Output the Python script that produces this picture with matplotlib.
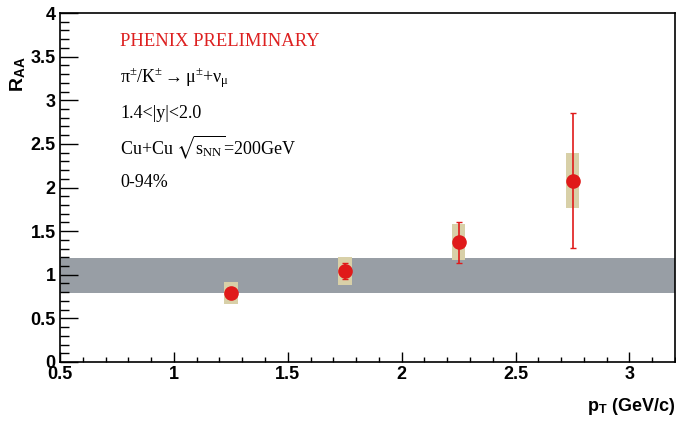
import matplotlib
matplotlib.use('Agg')
import matplotlib.pyplot as plt
from matplotlib.ticker import MultipleLocator
from matplotlib.patches import Rectangle

pt = [1.25, 1.75, 2.25, 2.75]
raa = [0.79, 1.04, 1.37, 2.08]
stat_lo = [0.02, 0.09, 0.24, 0.77]
stat_hi = [0.02, 0.09, 0.24, 0.77]
sys_lo = [0.12, 0.16, 0.20, 0.32]
sys_hi = [0.13, 0.16, 0.21, 0.31]
band_lo, band_hi = 0.79, 1.19

plt.rcParams['mathtext.fontset'] = 'custom'
plt.rcParams['mathtext.rm'] = 'Liberation Serif'
plt.rcParams['mathtext.it'] = 'Liberation Serif:italic'
plt.rcParams['mathtext.bf'] = 'Liberation Sans:bold'
plt.rcParams['mathtext.fallback'] = 'stix'

fig = plt.figure(figsize=(6.76, 4.24), dpi=100)
ax = fig.add_axes([60/676, 62/424, 615/676, 349/424])
ax.set_xlim(0.5, 3.2)
ax.set_ylim(0, 4)

ax.axhspan(band_lo, band_hi, color='#989ea5', lw=0, zorder=1)
for x, y, lo, hi in zip(pt, raa, sys_lo, sys_hi):
    ax.add_patch(Rectangle((x - 0.03, y - lo), 0.06, lo + hi,
                           facecolor='#d8d0a8', edgecolor='none', zorder=2))
ax.errorbar(pt, raa, yerr=[stat_lo, stat_hi], fmt='o', color='#e01a1a',
            ms=9.5, elinewidth=1.2, capsize=2, capthick=1, zorder=3)

ax.xaxis.set_major_locator(MultipleLocator(0.5))
ax.xaxis.set_minor_locator(MultipleLocator(0.1))
ax.yaxis.set_major_locator(MultipleLocator(0.5))
ax.yaxis.set_minor_locator(MultipleLocator(0.1))
ax.tick_params(axis='x', which='major', direction='in', length=7, width=1)
ax.tick_params(axis='x', which='minor', direction='in', length=3.6, width=1)
ax.tick_params(axis='y', which='major', direction='in', length=13, width=1)
ax.tick_params(axis='y', which='minor', direction='in', length=6.5, width=1)
ax.tick_params(labelsize=13, pad=3)
ax.xaxis.set_major_formatter(plt.FuncFormatter(lambda v, p: f'{v:g}'))
ax.yaxis.set_major_formatter(plt.FuncFormatter(lambda v, p: f'{v:g}'))
for lab in ax.get_xticklabels() + ax.get_yticklabels():
    lab.set_fontfamily('Liberation Sans')
    lab.set_fontweight('bold')
for s in ax.spines.values():
    s.set_linewidth(1.2)

fig.text(675/676, 7/424, r'$\mathbf{p}_{\mathbf{T}}$ (GeV/c)', ha='right', va='bottom',
         fontsize=13, fontweight='bold', family='Liberation Sans')
fig.text(8/676, 1 - 56/424, r'$\mathbf{R}_{\mathbf{AA}}$', ha='left', va='top', rotation=90,
         fontsize=14, fontweight='bold', family='Liberation Sans')

kw = dict(ha='left', va='center', family=['Liberation Serif', 'DejaVu Serif'], fontsize=13)
fig.text(120/676, 1 - 41/424, 'PHENIX PRELIMINARY', color='#dd2020',
         **dict(kw, fontsize=13.4))
fig.text(120/676, 1 - 78/424,
         r'π$^{\pm}$/K$^{\pm}\rightarrow$μ$^{\pm}$+ν$_{\mathrm{μ}}$', **kw)
fig.text(120/676, 1 - 113/424, '1.4<|y|<2.0', **kw)
fig.text(120/676, 1 - 147/424, r'Cu+Cu $\sqrt{\mathrm{s}_{\mathrm{NN}}}$=200GeV', **kw)
fig.text(120/676, 1 - 182/424, '0-94%', **kw)

fig.savefig('out.png', dpi=100)
